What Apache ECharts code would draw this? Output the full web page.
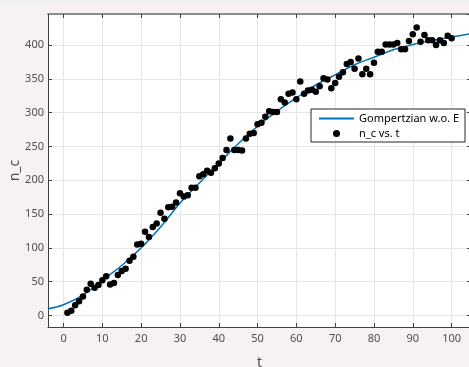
<!DOCTYPE html>
<html>
<head>
<meta charset="utf-8">
<script src="https://cdn.jsdelivr.net/npm/echarts@6/dist/echarts.min.js"></script>
<style>
  html, body { margin: 0; padding: 0; background: #f5f1f5; }
  #chart { width: 469px; height: 367px; }
</style>
</head>
<body>
<div id="chart"></div>
<script>
// 観測データ n_c vs. t
var tValues = [
  1, 2, 3, 4, 5, 6, 7, 8, 9, 10,
  11, 12, 13, 14, 15, 16, 17, 18, 19, 20,
  21, 22, 23, 24, 25, 26, 27, 28, 29, 30,
  31, 32, 33, 34, 35, 36, 37, 38, 39, 40,
  41, 42, 43, 44, 45, 46, 47, 48, 49, 50,
  51, 52, 53, 54, 55, 56, 57, 58, 59, 60,
  61, 62, 63, 64, 65, 66, 67, 68, 69, 70,
  71, 72, 73, 74, 75, 76, 77, 78, 79, 80,
  81, 82, 83, 84, 85, 86, 87, 88, 89, 90,
  91, 92, 93, 94, 95, 96, 97, 98, 99, 100
];
var ncValues = [
  4, 7, 15, 21, 28, 38, 47, 41, 45, 52,
  58, 46, 48, 60, 66, 69, 81, 87, 105, 106,
  124, 116, 131, 136, 152, 143, 160, 161, 167, 181,
  176, 178, 189, 189, 206, 209, 214, 211, 218, 225,
  233, 245, 262, 245, 245, 244, 262, 269, 270, 283,
  285, 294, 302, 301, 301, 320, 315, 328, 330, 320,
  346, 328, 333, 334, 331, 339, 351, 349, 336, 344,
  353, 360, 372, 375, 365, 380, 357, 365, 357, 374,
  390, 390, 401, 401, 401, 403, 394, 394, 406, 416,
  426, 405, 415, 407, 407, 400, 407, 403, 414, 410
];

// フィット曲線 (Gompertzian w.o. E) の読み取り値
var fitT = [-4, 0, 5, 10, 15, 20, 25, 30, 35, 40, 45, 50, 55, 60, 65, 70, 75, 80, 85, 90, 95, 100, 105];
var fitN = [10, 16, 30, 52, 74, 100, 131, 166, 196, 225, 254, 280, 302, 322, 341, 356, 371, 382, 393, 401, 407, 412, 417];

var axisFont = 'Noto Sans';
var labelColor = '#4d4d4d';

function pairs(xs, ys) {
  var out = [];
  for (var i = 0; i < xs.length; i++) {
    out.push([xs[i], ys[i]]);
  }
  return out;
}

var chart = echarts.init(document.getElementById('chart'), null, { renderer: 'canvas' });

var commonSplit = { show: true, lineStyle: { color: '#e6e6e6', width: 1 } };

chart.setOption({
  animation: false,
  backgroundColor: '#f5f1f5',
  graphic: [{
    type: 'rect',
    left: 0, top: 0,
    shape: { width: 469, height: 4 },
    style: { fill: '#efefef' },
    z: -1
  }],
  grid: {
    left: 48, top: 14, right: -2, bottom: 40,
    outerBoundsMode: 'none',
    containLabel: false,
    show: true,
    backgroundColor: '#ffffff',
    borderWidth: 0
  },
  legend: {
    orient: 'vertical',
    left: 311,
    top: 109,
    backgroundColor: '#ffffff',
    borderColor: '#262626',
    borderWidth: 1,
    borderRadius: 0,
    padding: [4, 6, 3, 7],
    itemWidth: 35,
    itemHeight: 7,
    itemGap: 4,
    textStyle: { fontFamily: axisFont, fontSize: 11, color: '#000' },
    data: [
      { name: 'Gompertzian w.o. E', itemStyle: { color: 'rgba(0,0,0,0)', borderWidth: 0, opacity: 0 } },
      { name: 'n_c vs. t' }
    ]
  },
  xAxis: [{
    type: 'value',
    position: 'bottom',
    min: -4,
    max: 105,
    splitNumber: 11,
    name: 't',
    nameLocation: 'middle',
    nameGap: 29,
    nameTextStyle: { fontFamily: axisFont, fontSize: 14, color: labelColor },
    axisLine: { show: true, onZero: false, lineStyle: { color: '#404040', width: 1 } },
    axisTick: { show: true, inside: true, length: 4, lineStyle: { color: '#404040' } },
    axisLabel: {
      fontFamily: axisFont, fontSize: 11, color: labelColor, margin: 6,
      showMinLabel: false, showMaxLabel: false
    },
    splitLine: commonSplit
  }, {
    type: 'value',
    position: 'top',
    min: -4,
    max: 105,
    splitNumber: 11,
    axisLine: { show: true, onZero: false, lineStyle: { color: '#8c8c8c', width: 2 } },
    axisTick: { show: true, inside: true, length: 4, lineStyle: { color: '#404040' } },
    axisLabel: { show: false },
    splitLine: { show: false }
  }],
  yAxis: [{
    type: 'value',
    position: 'left',
    min: -17,
    max: 446,
    splitNumber: 9,
    name: 'n_c',
    nameLocation: 'middle',
    nameGap: 26,
    nameMoveOverlap: false,
    nameTextStyle: { fontFamily: axisFont, fontSize: 14, color: labelColor },
    axisLine: { show: true, onZero: false, lineStyle: { color: '#404040', width: 1 } },
    axisTick: { show: true, inside: true, length: 4, lineStyle: { color: '#404040' } },
    axisLabel: {
      fontFamily: axisFont, fontSize: 11, color: labelColor, margin: 4,
      showMinLabel: false, showMaxLabel: false
    },
    splitLine: commonSplit
  }, {
    type: 'value',
    position: 'right',
    min: -17,
    max: 446,
    splitNumber: 9,
    axisLine: { show: true, onZero: false, lineStyle: { color: '#404040', width: 1 } },
    axisTick: { show: true, inside: true, length: 4, lineStyle: { color: '#404040' } },
    axisLabel: { show: false },
    splitLine: { show: false }
  }],
  series: [{
    name: 'Gompertzian w.o. E',
    type: 'line',
    xAxisIndex: 0,
    yAxisIndex: 0,
    data: pairs(fitT, fitN),
    smooth: 0.4,
    symbol: 'none',
    lineStyle: { color: '#0072bd', width: 1.5 },
    itemStyle: { color: '#0072bd' },
    z: 2
  }, {
    name: 'n_c vs. t',
    type: 'scatter',
    xAxisIndex: 0,
    yAxisIndex: 0,
    data: pairs(tValues, ncValues),
    symbol: 'circle',
    symbolSize: 6.5,
    itemStyle: { color: '#000000', opacity: 1 },
    z: 3
  }]
});
</script>
</body>
</html>
